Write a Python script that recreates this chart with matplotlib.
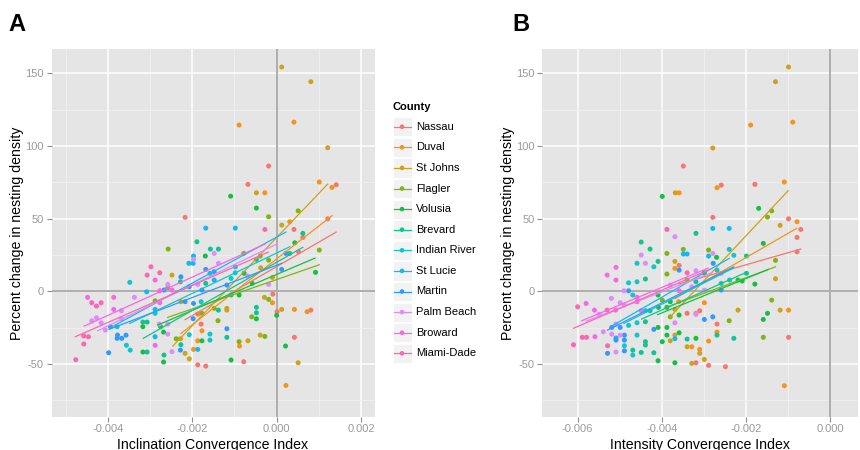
import numpy as np
import matplotlib
matplotlib.use("Agg")
import matplotlib.pyplot as plt
from matplotlib.patches import Rectangle

plt.rcParams['font.family'] = ['Liberation Sans', 'DejaVu Sans']

# ---------------- data ----------------
counties = ["Nassau", "Duval", "St Johns", "Flagler", "Volusia", "Brevard",
            "Indian River", "St Lucie", "Martin", "Palm Beach", "Broward", "Miami-Dade"]
county_colors = ["#F8766D", "#F5941A", "#CFA21A", "#7DB60F", "#14C043", "#10C491",
                 "#12C5CC", "#12B8F2", "#2E9AFF", "#DD8CFF", "#FB66E8", "#FF66B2"]

# Panel A: Inclination Convergence Index (x1000), % change, county index
a_x_milli = [0.12, 0.81, -0.89, 0.41, 1.21, -0.19, -0.68, -0.48, -0.28, 1.01, 1.31, 1.41,
             -1.09, -0.48, 0.51, -0.19, -2.17, 1.21, 0.12, 0.31, -1.68, -0.98, -0.28, 0.41,
             0.62, 0.62, -1.89, -1.57, -1.38, -2.57, -1.48, -1.69, -1.97, -1.97, -0.78, -0.39,
             0.22, 0.31, 0.43, 0.52, 1.01, -2.08, -1.98, -1.38, -0.98, -0.48, -0.19, -0.38,
             0.12, 0.92, -2.98, -3.07, -2.77, -2.27, -2.48, -1.68, -1.58, -1.48, -1.08, -0.98,
             -0.77, -0.69, -0.10, -0.58, -3.48, -2.88, -2.58, -2.58, -2.28, -2.07, -1.87, -1.68,
             -1.48, -1.18, -0.19, -3.08, -2.77, -2.67, -2.48, -1.77, -1.08, -0.89, -0.09, -4.48,
             -3.86, -3.37, -2.88, -2.77, -2.27, -2.17, -1.97, -1.79, -0.29, -0.19, -0.10, -4.38,
             -4.27, -1.48, -1.38, -1.18, -1.18, -0.48, -0.48, -3.86, -3.68, -1.77, -1.87, 0.01,
             0.12, 0.42, 0.72, 0.81, -0.59, -0.48, -1.98, -1.39, -4.38, -4.27, -4.16, -3.68,
             -3.17, -3.07, -1.79, -2.78, -3.94, -3.78, -4.06, -3.17, -2.75, -2.58, -1.77, -1.18,
             -2.68, -3.77, -3.57, -3.78, -3.67, -4.57, -4.46, -2.88, -2.58, -2.38, -2.28, -2.07,
             -1.87, -1.77, -1.58, -1.58, -1.18, -0.89, -0.68, -0.88, -0.39, -0.28, 0.42, -4.57,
             -3.56, -3.47, -2.88, -2.27, -2.28, -1.97, -1.87, -2.17, -2.07, -2.48, 0.21, -3.17,
             -3.07, -3.98, -2.67, -2.68, -4.76, -1.87, -1.68, -1.08, -0.78, 0.51, 0.22, -4.16,
             -2.88, -2.88, 0.00]
a_y = [154.3, 144.2, 114.4, 116.4, 98.8, 86.2, 73.6, 67.8, 67.8, 75.2, 71.5, 73.3,
       65.5, 57.3, 55.4, 51.3, 50.9, 49.9, 45.6, 47.9, 43.5, 43.5, 42.6, 42.6,
       39.9, 37.1, 34.1, 29.1, 29.1, 29.1, 26.1, 24.3, 24.3, 22.0, 26.1, 24.3,
       26.1, 26.1, 33.4, 27.2, 28.4, 19.3, 19.3, 19.3, 16.9, 22.0, 21.5, 16.2,
       15.1, 13.1, 16.9, 11.2, 12.8, 10.0, 11.2, 15.1, 12.4, 13.5, 8.9, 12.8,
       12.4, 10.5, 9.6, 5.5, 6.2, 7.8, 4.8, 2.5, 6.6, 3.2, 4.8, 5.5,
       7.8, 4.3, 4.8, -0.3, 0.4, 0.9, 0.9, 0.9, -2.5, -2.5, -1.9, -4.1,
       -4.1, -4.1, -6.5, -7.8, -7.1, -7.1, -8.3, -7.1, -4.1, -5.5, -7.8, -7.8,
       -10.1, -11.7, -12.9, -11.7, -12.9, -11.0, -14.7, -12.4, -13.3, -15.1, -15.6, -14.0,
       -12.4, -12.4, -14.0, -12.9, -17.5, -18.9, -18.8, -20.2, -20.2, -18.1, -21.6, -18.8,
       -21.1, -21.1, -22.5, -22.5, -24.3, -24.3, -26.6, -24.3, -24.3, -22.5, -27.1, -25.7,
       -28.0, -30.1, -30.1, -32.3, -32.3, -30.7, -31.2, -31.2, -29.4, -32.6, -32.6, -29.8,
       -34.0, -34.0, -29.4, -33.5, -31.6, -34.6, -34.0, -37.6, -30.1, -31.0, -31.6, -36.2,
       -37.1, -40.4, -37.1, -36.7, -40.4, -39.9, -39.9, -42.6, -46.4, -41.5, -37.6, -41.7,
       -41.7, -42.2, -43.8, -48.6, -47.0, -50.5, -51.4, -47.2, -48.4, -49.1, -64.7, -7.8,
       -12.4, -15.1, -16.5]
a_county = [2, 2, 1, 1, 2, 0, 0, 2, 1, 1, 1, 0,
            4, 4, 3, 3, 0, 0, 2, 1, 7, 7, 11, 0,
            5, 0, 5, 5, 5, 3, 9, 4, 7, 9, 3, 3,
            8, 5, 4, 0, 3, 7, 7, 9, 7, 5, 3, 2,
            8, 4, 11, 11, 11, 8, 2, 8, 6, 8, 6, 6,
            4, 9, 2, 4, 6, 10, 9, 3, 5, 8, 9, 5,
            7, 8, 9, 7, 10, 8, 10, 8, 5, 4, 0, 10,
            10, 9, 3, 10, 2, 8, 8, 6, 2, 3, 1, 11,
            11, 3, 5, 2, 2, 5, 5, 10, 9, 3, 0, 0,
            2, 1, 1, 0, 3, 4, 8, 3, 9, 9, 9, 9,
            5, 5, 0, 9, 8, 6, 9, 4, 4, 9, 1, 8,
            4, 8, 8, 8, 8, 11, 11, 7, 9, 3, 2, 6,
            1, 4, 6, 6, 5, 3, 2, 1, 2, 3, 0, 11,
            6, 6, 10, 5, 8, 1, 7, 2, 2, 9, 4, 4,
            5, 8, 5, 4, 11, 0, 0, 4, 0, 2, 1, 11,
            7, 6, 4]

# Panel B: Intensity Convergence Index (x1000), % change, county index
b_x_milli = [-0.99, -1.30, -0.89, -1.89, -2.79, -3.49, -3.68, -3.59, -3.99, -2.69, -2.59, -1.79,
             -1.09, -1.70, -1.39, -1.49, -2.79, -0.99, -0.79, -1.19, -2.79, -2.40, -3.88, -0.70,
             -3.69, -0.79, -3.19, -4.49, -4.28, -3.49, -2.89, -3.88, -3.49, -3.40, -2.79, -2.89,
             -2.70, -2.40, -2.29, -1.99, -1.59, -1.30, -0.79, -4.49, -4.59, -4.39, -4.19, -4.09,
             -3.59, -3.69, -3.59, -3.69, -3.88, -3.40, -3.19, -2.78, -2.99, -2.69, -2.59, -1.99,
             -1.30, -5.30, -5.09, -5.09, -4.59, -4.39, -4.79, -4.79, -4.90, -4.69, -4.09, -3.80,
             -3.59, -3.40, -3.19, -3.29, -2.59, -2.59, -2.39, -2.19, -2.09, -1.79, -2.99, -6.00,
             -5.80, -5.60, -5.49, -5.30, -5.10, -5.20, -4.99, -4.90, -4.59, -4.59, -4.49, -4.39,
             -4.28, -3.99, -3.80, -3.60, -3.69, -3.80, -3.59, -3.40, -3.19, -3.10, -2.99, -3.19,
             -2.99, -2.79, -2.69, -2.40, -2.19, -1.59, -1.49, -1.39, -1.19, -0.99, -3.69, -5.09,
             -4.99, -5.19, -4.79, -4.59, -4.39, -4.19, -4.09, -3.88, -6.10, -5.89, -5.79, -5.59,
             -5.39, -5.19, -4.99, -5.09, -5.09, -4.89, -4.89, -4.59, -4.39, -4.39, -4.89, -5.29,
             -5.29, -5.09, -4.89, -4.69, -4.69, -4.49, -4.19, -4.09, -3.99, -3.88, -3.80, -3.69,
             -3.59, -3.69, -3.40, -3.40, -3.29, -3.19, -3.10, -3.10, -3.29, -3.19, -2.99, -2.89,
             -2.89, -2.69, -2.69, -2.49, -2.29, -1.59, -0.99, -1.09, -4.08, -3.88, -3.69]
b_y = [154.3, 144.2, 116.4, 114.4, 98.6, 86.2, 67.8, 67.8, 65.3, 71.3, 73.1, 73.6,
       75.2, 57.1, 55.4, 51.1, 50.9, 49.9, 47.9, 45.4, 43.3, 43.3, 42.6, 42.6,
       37.6, 37.1, 39.9, 33.9, 29.1, 28.9, 28.4, 26.1, 25.7, 25.7, 26.1, 24.3,
       23.4, 28.9, 24.8, 24.3, 33.0, 21.3, 27.2, 25.0, 19.3, 19.3, 16.9, 20.6,
       14.6, 20.6, 17.9, 15.8, 11.9, 12.8, 14.2, 19.3, 12.8, 14.6, 12.4, 12.4,
       8.7, 11.2, 16.5, 7.8, 6.6, 8.5, 5.9, 0.4, 0.4, -2.5, -2.5, 4.3,
       0.4, 7.8, 6.6, 3.2, 5.5, 0.9, 7.8, 7.8, 7.1, 5.0, 0.9, -10.6,
       -8.3, -12.9, -15.8, -12.9, -12.9, -4.8, -7.8, -9.4, -4.1, -7.1, -13.3, -13.3,
       -13.3, -6.0, -7.1, -7.1, -12.4, -17.5, -16.3, -15.1, -15.1, -13.3, -7.8, -15.8,
       -19.3, -17.5, -22.5, -20.2, -12.9, -19.3, -15.1, -6.0, -12.9, -12.9, -21.6, -22.5,
       -24.8, -24.8, -23.4, -21.6, -20.9, -26.1, -24.8, -24.8, -36.7, -31.6, -31.6, -31.2,
       -27.8, -29.4, -30.1, -32.1, -33.5, -30.1, -33.5, -30.1, -34.6, -36.9, -37.4, -37.4,
       -42.6, -41.7, -40.9, -40.4, -43.8, -42.0, -42.2, -47.7, -34.6, -30.1, -34.0, -30.1,
       -28.5, -49.1, -32.8, -38.1, -38.1, -32.3, -39.9, -42.6, -49.5, -49.1, -46.8, -34.2,
       -50.9, -28.0, -30.1, -51.8, -32.3, -31.6, -31.6, -64.9, -11.0, -11.0, -32.5]
b_county = [2, 2, 1, 1, 2, 0, 2, 1, 4, 1, 0, 0,
            1, 4, 3, 3, 0, 0, 1, 2, 7, 7, 11, 0,
            9, 0, 5, 5, 5, 3, 3, 3, 7, 7, 9, 7,
            4, 6, 6, 5, 4, 3, 0, 9, 6, 9, 6, 5,
            8, 2, 0, 1, 3, 11, 9, 8, 4, 6, 9, 5,
            2, 10, 10, 10, 6, 5, 6, 8, 9, 6, 4, 9,
            10, 3, 5, 9, 6, 8, 6, 4, 4, 4, 9, 11,
            10, 10, 9, 11, 10, 9, 9, 9, 10, 10, 10, 6,
            5, 3, 4, 1, 2, 3, 4, 0, 1, 0, 1, 9,
            8, 8, 0, 3, 2, 4, 4, 3, 2, 1, 9, 9,
            8, 8, 6, 6, 5, 8, 4, 4, 11, 11, 11, 10,
            9, 9, 9, 7, 8, 8, 8, 6, 5, 5, 6, 11,
            8, 9, 8, 5, 6, 5, 5, 4, 4, 4, 2, 2,
            4, 4, 5, 2, 1, 4, 1, 2, 2, 0, 2, 1,
            0, 1, 5, 0, 5, 3, 0, 1, 4, 4, 7]

# Linear fits per county: x range (x1000) and fitted y at its ends
a_fit_x = [(-2.17, 1.41), (-2.27, 1.31), (-2.46, 1.21), (-2.58, 1.01), (-2.82, 0.91), (-3.16, 0.62),
           (-3.48, 0.31), (-3.93, 0.22), (-3.97, 0.12), (-4.24, 0.00), (-4.56, -0.28), (-4.77, -0.20)]
a_fit_y = [(-19.5, 40.8), (-29.0, 52.0), (-37.6, 73.8), (-17.9, 18.3), (-23.2, 22.9), (-32.3, 30.3),
           (-22.0, 30.7), (-24.8, 40.8), (-26.1, 19.3), (-27.1, 32.5), (-23.9, 32.5), (-31.2, 27.0)]
b_fit_x = [(-3.60, -0.70), (-3.69, -0.80), (-3.80, -1.00), (-3.90, -1.30), (-4.10, -1.47), (-4.48, -2.00),
           (-4.90, -2.30), (-5.20, -2.40), (-5.29, -2.29), (-5.80, -2.80), (-5.90, -2.90), (-6.10, -2.90)]
b_fit_y = [(5.0, 29.1), (-5.0, 43.3), (-17.5, 69.2), (-11.0, 16.9), (-16.0, 15.1), (-19.0, 13.0),
           (-22.0, 16.0), (-24.0, 22.7), (-26.6, 16.9), (-20.5, 13.0), (-20.2, 16.0), (-25.4, 14.6)]

a_xticks = [-0.004, -0.002, 0.000, 0.002]
a_xtick_labels = ["-0.004", "-0.002", "0.000", "0.002"]
b_xticks = [-0.006, -0.004, -0.002, 0.000]
b_xtick_labels = ["-0.006", "-0.004", "-0.002", "0.000"]
yticks = [-50, 0, 50, 100, 150]
ytick_labels = ["-50", "0", "50", "100", "150"]

# ---------------- figure ----------------
W, H = 860, 450
fig = plt.figure(figsize=(W / 100, H / 100), dpi=100)
fig.patch.set_facecolor("white")

def px_axes(l, t, r, b):
    return fig.add_axes([l / W, 1 - b / H, (r - l) / W, (b - t) / H])

TICK_COL = "#9A9A9A"
PANEL_BG = "#E5E5E5"

def style_axes(ax, xlim, xticks, xlabels, xminor):
    ax.set_facecolor(PANEL_BG)
    for s in ax.spines.values():
        s.set_visible(False)
    ax.set_xlim(*xlim)
    ax.set_ylim(-86.2, 166.7)
    ax.set_xticks(xticks)
    ax.set_xticklabels(xlabels)
    ax.set_xticks(xminor, minor=True)
    ax.set_yticks(yticks)
    ax.set_yticklabels(ytick_labels)
    ax.set_yticks([-75, -25, 25, 75, 125], minor=True)
    ax.grid(which="major", color="white", linewidth=1.1, zorder=0)
    ax.grid(which="minor", color="#F2F2F2", linewidth=0.5, zorder=0)
    ax.set_axisbelow(True)
    ax.tick_params(which="major", length=3.6, width=0.8, color="#8C8C8C",
                   labelcolor=TICK_COL, labelsize=8, pad=2)
    ax.tick_params(which="minor", length=0)
    ax.axhline(0, color="#ADADAD", linewidth=1.4, zorder=1)
    ax.axvline(0, color="#ADADAD", linewidth=1.4, zorder=1)

def draw_panel(ax, xs_milli, ys, cs, fit_x, fit_y):
    xs = np.asarray(xs_milli) * 1e-3
    ys = np.asarray(ys)
    cs = np.asarray(cs)
    for i, col in enumerate(county_colors):
        m = cs == i
        ax.scatter(xs[m], ys[m], s=13, color=col, edgecolors="none", zorder=2)
    for i, col in enumerate(county_colors):
        x0, x1 = fit_x[i]
        y0, y1 = fit_y[i]
        ax.plot([x0 * 1e-3, x1 * 1e-3], [y0, y1], color=col, linewidth=0.9, zorder=3)

axA = px_axes(51.7, 49, 375, 416.7)
style_axes(axA, (-0.00533, 0.00233), a_xticks, a_xtick_labels, [-0.005, -0.003, -0.001, 0.001])
draw_panel(axA, a_x_milli, a_y, a_county, a_fit_x, a_fit_y)

axB = px_axes(542.3, 49, 858, 416.7)
style_axes(axB, (-0.00684, 0.00066), b_xticks, b_xtick_labels, [-0.005, -0.003, -0.001])
draw_panel(axB, b_x_milli, b_y, b_county, b_fit_x, b_fit_y)

# overlay in pixel coordinates for labels and legend
ov = fig.add_axes([0, 0, 1, 1], zorder=10)
ov.set_xlim(0, W)
ov.set_ylim(H, 0)
ov.axis("off")
ov.patch.set_alpha(0)

ov.text(8, 31, "A", fontsize=17, fontweight="bold", va="baseline", ha="left")
ov.text(512, 31, "B", fontsize=17, fontweight="bold", va="baseline", ha="left")
ov.text(17, 233, "Percent change in nesting density", rotation=90, fontsize=10.2,
        ha="center", va="center")
ov.text(508, 233, "Percent change in nesting density", rotation=90, fontsize=10.2,
        ha="center", va="center")
ov.text(213, 444.5, "Inclination Convergence Index", fontsize=10.2, ha="center", va="center")
ov.text(700, 444.5, "Intensity Convergence Index", fontsize=10.2, ha="center", va="center")

# legend
ov.text(392.5, 107, "County", fontsize=8, fontweight="bold", ha="left", va="center")
for i, (name, col) in enumerate(zip(counties, county_colors)):
    cy = 126.7 + i * 20.6
    ov.add_patch(Rectangle((392.5, cy - 9.6), 19, 19.2, facecolor="#F2F2F2",
                           edgecolor="white", linewidth=0.6))
    ov.plot([393.5, 410.5], [cy, cy], color=col, linewidth=0.9)
    ov.scatter([402], [cy], s=11, color=col, edgecolors="none")
    ov.text(416, cy, name, fontsize=8, ha="left", va="center")

fig.savefig("out.png", dpi=100)
